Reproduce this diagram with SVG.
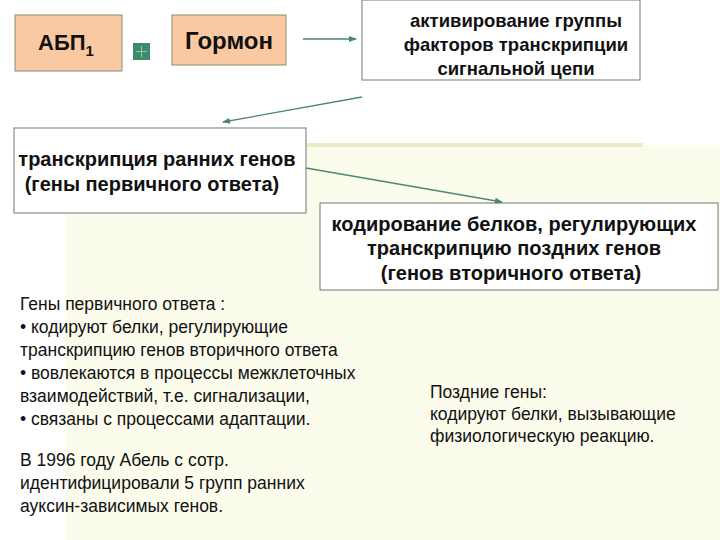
<svg xmlns="http://www.w3.org/2000/svg" width="720" height="540" viewBox="0 0 720 540">
<style>
text{font-family:"Liberation Sans",Arial,sans-serif;fill:#111}
.b{font-weight:bold;font-size:20px}
.n{font-size:17.5px}
.peach{fill:#FAC9A2;stroke:#8a8a7a;stroke-width:1}
.box{fill:#fff;stroke:#6a7a70;stroke-width:1}
.c{stroke:#4a8a6a;stroke-width:1.3;fill:none;marker-end:url(#a)}
</style>
<defs><marker id="a" markerWidth="8" markerHeight="8" refX="7" refY="4" orient="auto" markerUnits="userSpaceOnUse"><path d="M0,1 L8,4 L0,7 z" fill="#4a8a6a"/></marker></defs>
<rect width="720" height="540" fill="#fff"/>
<rect x="65" y="145" width="655" height="395" fill="#FCFCEC"/>
<rect x="65" y="143" width="578" height="4" fill="#EDEBC8"/>
<g id="abp"><rect class="peach" x="15" y="15" width="107" height="56"/><text x="38" y="50" font-size="22" font-weight="bold">АБП<tspan font-size="15" dy="6">1</tspan></text></g>
<g id="plus"><rect x="133" y="43" width="17" height="17" fill="#3E8A6E"/><path d="M141.5,46v11M136,51.5h11" stroke="#9ccc9c" stroke-width="1"/></g>
<g id="hormone"><rect class="peach" x="172" y="15" width="114" height="50"/><text x="229" y="49" text-anchor="middle" font-size="24" font-weight="bold">Гормон</text></g>
<g id="activ"><rect class="box" x="362" y="0" width="278" height="80"/><text class="b" text-anchor="middle" font-size="18.5px" style="font-size:18.5px"><tspan x="516" y="27">активирование группы</tspan><tspan x="516" y="51">факторов транскрипции</tspan><tspan x="516" y="75">сигнальной цепи</tspan></text></g>
<g id="early"><rect class="box" x="14" y="128" width="292" height="85"/><text class="b" text-anchor="middle"><tspan x="157" y="166">транскрипция ранних генов</tspan><tspan x="152" y="191">(гены первичного ответа)</tspan></text></g>
<g id="coding"><rect class="box" x="320" y="203" width="398" height="87" fill="#FCFCEC"/><text class="b" text-anchor="middle"><tspan x="514" y="231">кодирование белков, регулирующих</tspan><tspan x="514" y="255">транскрипцию поздних генов</tspan><tspan x="511" y="280">(генов вторичного ответа)</tspan></text></g>
<g id="connectors">
<path class="c" d="M303,39 H356"/>
<path class="c" d="M362,97 L223,122"/>
<path class="c" d="M306,168 L502,202"/>
</g>
<g id="primary"><text class="n"><tspan x="20" y="310">Гены первичного ответа :</tspan><tspan x="20" y="333">• кодируют белки, регулирующие</tspan><tspan x="20" y="356">транскрипцию генов вторичного ответа</tspan><tspan x="20" y="379">• вовлекаются в процессы межклеточных</tspan><tspan x="20" y="402">взаимодействий, т.е. сигнализации,</tspan><tspan x="20" y="425">• связаны с процессами адаптации.</tspan><tspan x="20" y="466">В 1996 году Абель с сотр.</tspan><tspan x="20" y="489">идентифицировали 5 групп ранних</tspan><tspan x="20" y="512">ауксин-зависимых генов.</tspan></text></g>
<g id="late"><text class="n"><tspan x="430" y="398">Поздние гены:</tspan><tspan x="430" y="420">кодируют белки, вызывающие</tspan><tspan x="430" y="442">физиологическую реакцию.</tspan></text></g>
</svg>
